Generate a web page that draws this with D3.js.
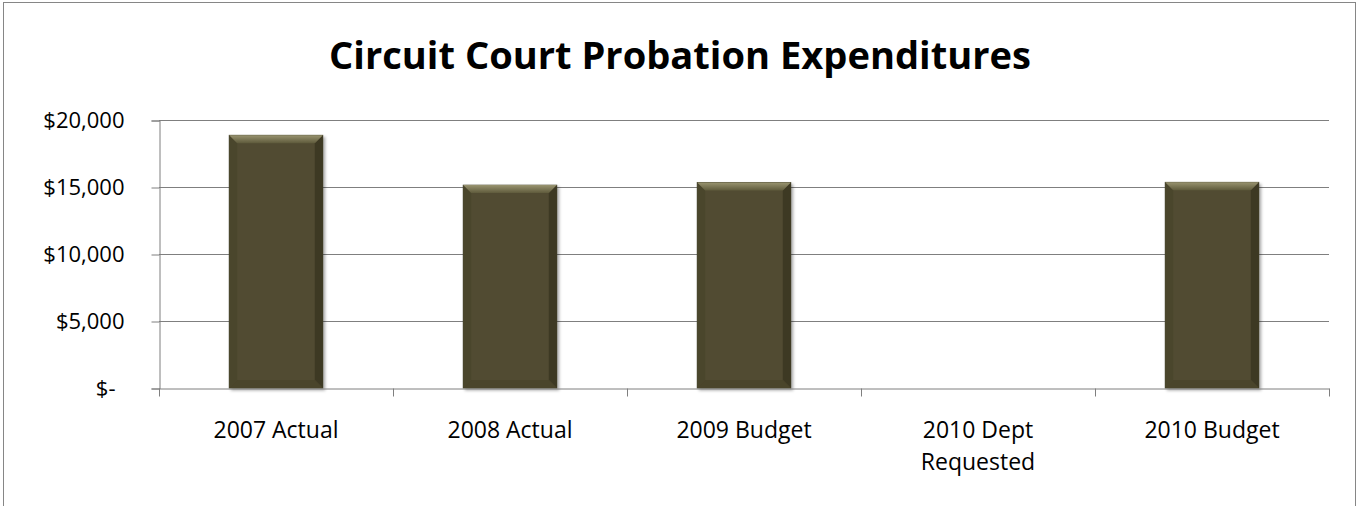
<!DOCTYPE html>
<html>
<head>
<meta charset="utf-8">
<title>Circuit Court Probation Expenditures</title>
<script src="https://cdn.jsdelivr.net/npm/d3@7"></script>
<style>
  body { margin: 0; background: #fff; }
  svg { display: block; font-family: "Open Sans", "Liberation Sans", sans-serif; }
</style>
</head>
<body>
<svg id="chart" width="1359" height="506"></svg>
<script>
"use strict";

// chart data
let categories = ["2007 Actual", "2008 Actual", "2009 Budget", "2010 Dept Requested", "2010 Budget"];
let expenditures = [18860, 15140, 15330, null, 15350];
let yTicks = [0, 5000, 10000, 15000, 20000];
let yTickLabels = ["$-", "$5,000", "$10,000", "$15,000", "$20,000"];
let title = "Circuit Court Probation Expenditures";

let W = 1359, H = 506;
let margin = { top: 120, right: 30, bottom: 118, left: 159 };

let svg = d3.select("#chart");

// chart area border (bottom edge runs past the picture)
svg.append("rect")
  .attr("x", 3.5).attr("y", 2.5)
  .attr("width", W - 7).attr("height", H + 40)
  .attr("fill", "#fff")
  .attr("stroke", "#868686");

let defs = svg.append("defs");
let topGrad = defs.append("linearGradient")
  .attr("id", "bevelTop").attr("x1", 0).attr("y1", 0).attr("x2", 0).attr("y2", 1);
topGrad.append("stop").attr("offset", "0%").attr("stop-color", "#98936f");
topGrad.append("stop").attr("offset", "100%").attr("stop-color", "#5e5a3b");

let shadow = defs.append("filter").attr("id", "barShadow")
  .attr("x", "-10%").attr("y", "-10%").attr("width", "130%").attr("height", "130%");
shadow.append("feDropShadow")
  .attr("dx", 2).attr("dy", 2).attr("stdDeviation", 1.6)
  .attr("flood-color", "#000").attr("flood-opacity", 0.35);

let x = d3.scaleBand()
  .domain(categories)
  .range([margin.left, W - margin.right])
  .paddingInner(0.6).paddingOuter(0.3);

let y = d3.scaleLinear()
  .domain([0, 20000])
  .range([H - margin.bottom, margin.top]);

// title, sized to the span it has in the reference
let titleText = svg.append("text")
  .attr("x", 680).attr("y", 69)
  .attr("text-anchor", "middle")
  .attr("font-weight", "bold")
  .attr("font-size", 40)
  .attr("fill", "#000")
  .text(title);
let tw = titleText.node().getComputedTextLength();
titleText.attr("font-size", 40 * 702 / tw);

// gridlines
svg.append("g")
  .selectAll("line")
  .data(yTicks.slice(1))
  .enter()
  .append("line")
  .attr("x1", margin.left).attr("x2", W - margin.right)
  .attr("y1", (d) => Math.round(y(d)) + 0.5)
  .attr("y2", (d) => Math.round(y(d)) + 0.5)
  .attr("stroke", "#7f7f7f");

// y axis
let yAxis = svg.append("g")
  .attr("transform", `translate(${margin.left + 0.5},0.5)`)
  .call(d3.axisLeft(y)
    .tickValues(yTicks)
    .tickSize(8)
    .tickPadding(27)
    .tickFormat((d, i) => yTickLabels[i]));
yAxis.select(".domain").attr("stroke", "#7f7f7f");
yAxis.selectAll(".tick line").attr("stroke", "#7f7f7f");
yAxis.selectAll(".tick text")
  .attr("font-size", 22)
  .attr("font-family", "Open Sans")
  .attr("fill", "#000")
  .attr("dx", (d) => d === 0 ? -9 : 0);

// bars with a bevelled face
let b = 8;
let bars = svg.append("g")
  .selectAll("g")
  .data(categories.map((c, i) => ({ cat: c, value: expenditures[i] })).filter((d) => d.value != null))
  .enter()
  .append("g");

bars.append("rect")
  .attr("x", (d) => x(d.cat))
  .attr("y", (d) => y(d.value))
  .attr("width", x.bandwidth())
  .attr("height", (d) => y(0) - y(d.value))
  .attr("fill", "#514c30")
  .attr("stroke", "#3a3620")
  .attr("stroke-width", 0.8)
  .attr("filter", "url(#barShadow)");

let face = (d, side) => {
  let x0 = x(d.cat), x1 = x0 + x.bandwidth();
  let y0 = y(d.value), y1 = y(0);
  let pts = {
    top: [[x0, y0], [x1, y0], [x1 - b, y0 + b], [x0 + b, y0 + b]],
    left: [[x0, y0], [x0 + b, y0 + b], [x0 + b, y1 - b], [x0, y1]],
    right: [[x1, y0], [x1, y1], [x1 - b, y1 - b], [x1 - b, y0 + b]],
    bottom: [[x0, y1], [x0 + b, y1 - b], [x1 - b, y1 - b], [x1, y1]]
  };
  return pts[side].map((p) => p.join(",")).join(" ");
};

bars.append("polygon").attr("points", (d) => face(d, "left")).attr("fill", "#4a462c");
bars.append("polygon").attr("points", (d) => face(d, "right")).attr("fill", "#3d3923");
bars.append("polygon").attr("points", (d) => face(d, "bottom")).attr("fill", "#4a452b");
bars.append("polygon").attr("points", (d) => face(d, "top")).attr("fill", "url(#bevelTop)");

// x axis
let xAxis = svg.append("g")
  .attr("transform", `translate(0,${Math.round(y(0)) + 0.5})`)
  .call(d3.axisBottom(x).tickSize(0).tickPadding(34));
xAxis.select(".domain").attr("stroke", "#7f7f7f");

let bounds = categories.map((c) => x(c) - x.step() * x.paddingOuter())
  .concat([W - margin.right]);
xAxis.selectAll(".bound")
  .data(bounds)
  .enter()
  .append("line")
  .attr("class", "bound")
  .attr("x1", (d) => Math.round(d) + 0.5).attr("x2", (d) => Math.round(d) + 0.5)
  .attr("y1", 0).attr("y2", 8)
  .attr("stroke", "#7f7f7f");

xAxis.selectAll(".tick text")
  .attr("font-size", 23)
  .attr("font-family", "Open Sans")
  .attr("fill", "#000")
  .each(function (d) {
    let t = d3.select(this);
    let lines = d.length > 14 ? [d.split(" ").slice(0, 2).join(" "), d.split(" ").slice(2).join(" ")] : [d];
    let yPos = t.attr("y");
    t.text(null);
    lines.forEach((l, i) => {
      t.append("tspan")
        .attr("x", 0)
        .attr("y", yPos)
        .attr("dy", (0.68 + i * 1.4) + "em")
        .text(l);
    });
  });
</script>
</body>
</html>
